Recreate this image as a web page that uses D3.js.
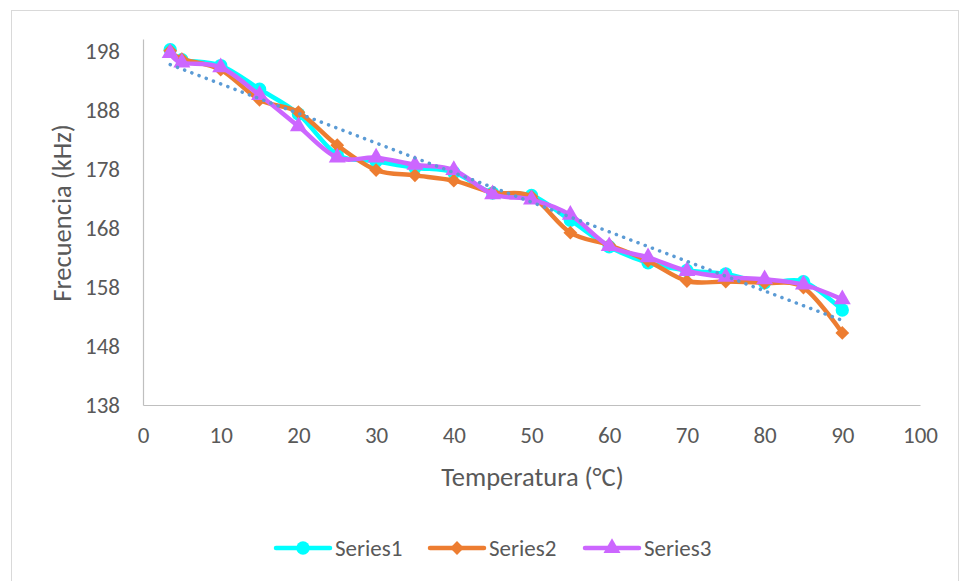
<!DOCTYPE html>
<html>
<head>
<meta charset="utf-8">
<script src="https://cdn.jsdelivr.net/npm/d3@7"></script>
<style>
  html, body { margin: 0; padding: 0; background: #fff; }
  svg { display: block; }
  text { font-family: Carlito, Calibri, "Open Sans", sans-serif; fill: #595959; }
</style>
</head>
<body>
<svg id="chart" width="961" height="581"></svg>
<script>
// Temperature (°C) readings and measured frequency (kHz) for three runs
const temperatures = [3.5, 5, 10, 15, 20, 25, 30, 35, 40, 45, 50, 55, 60, 65, 70, 75, 80, 85, 90];
const series1 = [198.2, 196.5, 195.5, 191.5, 187.3, 180.4, 179.3, 178.2, 177.4, 173.9, 173.5, 169.3, 164.8, 162.1, 160.8, 160.2, 158.7, 158.9, 154.1];
const series2 = [198.0, 196.6, 194.8, 189.7, 187.6, 182.0, 177.8, 176.9, 176.0, 174.0, 173.3, 167.2, 165.1, 162.4, 159.0, 158.9, 158.7, 157.9, 150.2];
const series3 = [197.6, 196.0, 195.2, 190.5, 185.2, 179.9, 179.9, 178.7, 177.8, 173.7, 172.8, 170.2, 164.9, 163.0, 160.7, 159.7, 159.3, 158.4, 155.9];
const seriesNames = ["Series1", "Series2", "Series3"];
const xTicks = [0, 10, 20, 30, 40, 50, 60, 70, 80, 90, 100];
const yTicks = [138, 148, 158, 168, 178, 188, 198];

const colors = ["#00FFFF", "#ED7D31", "#CC66FF"];

// marker shapes: circle, square turned 45° (diamond), triangle
const markers = [
  { type: d3.symbolCircle, size: 140, rotate: 0 },
  { type: d3.symbolSquare, size: 95, rotate: 45 },
  { type: d3.symbolTriangle, size: 125, rotate: 0 }
];

const svg = d3.select("#chart");

// chart frame
svg.append("rect")
  .attr("x", 11.5).attr("y", 10.5)
  .attr("width", 947).attr("height", 590)
  .attr("fill", "none").attr("stroke", "#D9D9D9").attr("stroke-width", 1);

const plot = { left: 143, right: 920, top: 39, bottom: 405 };
const x = d3.scaleLinear().domain([0, 100]).range([plot.left, plot.right]);
const y = d3.scaleLinear().domain([138, 200]).range([plot.bottom, plot.top]);

// axes (lines + labels, no tick marks)
const xAxis = svg.append("g")
  .attr("transform", `translate(0,${plot.bottom})`)
  .call(d3.axisBottom(x).tickValues(xTicks).tickSize(0).tickPadding(22));
const yAxis = svg.append("g")
  .attr("transform", `translate(${plot.left},0)`)
  .call(d3.axisLeft(y).tickValues(yTicks).tickSize(0).tickPadding(23));
[xAxis, yAxis].forEach(g => {
  g.select(".domain").attr("stroke", "#BFBFBF").attr("stroke-width", 1.2);
  g.selectAll("text").style("font-size", "23px").attr("fill", "#595959");
});

// axis titles
svg.append("text")
  .attr("x", (plot.left + plot.right) / 2 + 1).attr("y", 486)
  .attr("text-anchor", "middle")
  .style("font-size", "26.5px")
  .text("Temperatura (°C)");
svg.append("text")
  .attr("transform", `translate(71,${213}) rotate(-90)`)
  .attr("text-anchor", "middle")
  .style("font-size", "26.5px")
  .text("Frecuencia (kHz)");

// smoothed series lines with markers
const allSeries = [series1, series2, series3];
const line = d3.line()
  .x(d => x(d[0])).y(d => y(d[1]))
  .curve(d3.curveCardinal.tension(0));

function markerPath(i) {
  return d3.symbol().type(markers[i].type).size(markers[i].size)();
}

allSeries.forEach((vals, i) => {
  const pts = temperatures.map((t, j) => [t, vals[j]]);
  const g = svg.append("g");
  g.append("path")
    .datum(pts)
    .attr("d", line)
    .attr("fill", "none")
    .attr("stroke", colors[i])
    .attr("stroke-width", 4.5)
    .attr("stroke-linejoin", "round");
  g.selectAll("path.mk")
    .data(pts)
    .join("path")
    .attr("class", "mk")
    .attr("transform", d => `translate(${x(d[0])},${y(d[1])}) rotate(${markers[i].rotate})`)
    .attr("d", markerPath(i))
    .attr("fill", colors[i]);
});

// linear least-squares trend of Series1
const n = temperatures.length;
const mx = d3.mean(temperatures), my = d3.mean(series1);
let sxy = 0, sxx = 0;
temperatures.forEach((t, j) => { sxy += (t - mx) * (series1[j] - my); sxx += (t - mx) * (t - mx); });
const slope = sxy / sxx, intercept = my - slope * mx;
const trendPts = [temperatures[0], temperatures[n - 1]].map(t => [t, intercept + slope * t]);
svg.append("path")
  .datum(trendPts)
  .attr("d", d3.line().x(d => x(d[0])).y(d => y(d[1])))
  .attr("fill", "none")
  .attr("stroke", "#5B9BD5")
  .attr("stroke-width", 3.5)
  .attr("stroke-linecap", "round")
  .attr("stroke-dasharray", "0.1 7.6");

// legend
const legendX = [276, 430, 585];
const legendY = 548;
seriesNames.forEach((name, i) => {
  const g = svg.append("g").attr("transform", `translate(${legendX[i]},${legendY})`);
  g.append("line")
    .attr("x1", 0).attr("x2", 54)
    .attr("stroke", colors[i]).attr("stroke-width", 4.5).attr("stroke-linecap", "round");
  g.append("path")
    .attr("transform", `translate(27,0) rotate(${markers[i].rotate})`)
    .attr("d", markerPath(i))
    .attr("fill", colors[i]);
  g.append("text")
    .attr("x", 59).attr("y", 0).attr("dy", "0.35em")
    .style("font-size", "23px")
    .text(name);
});
</script>
</body>
</html>
